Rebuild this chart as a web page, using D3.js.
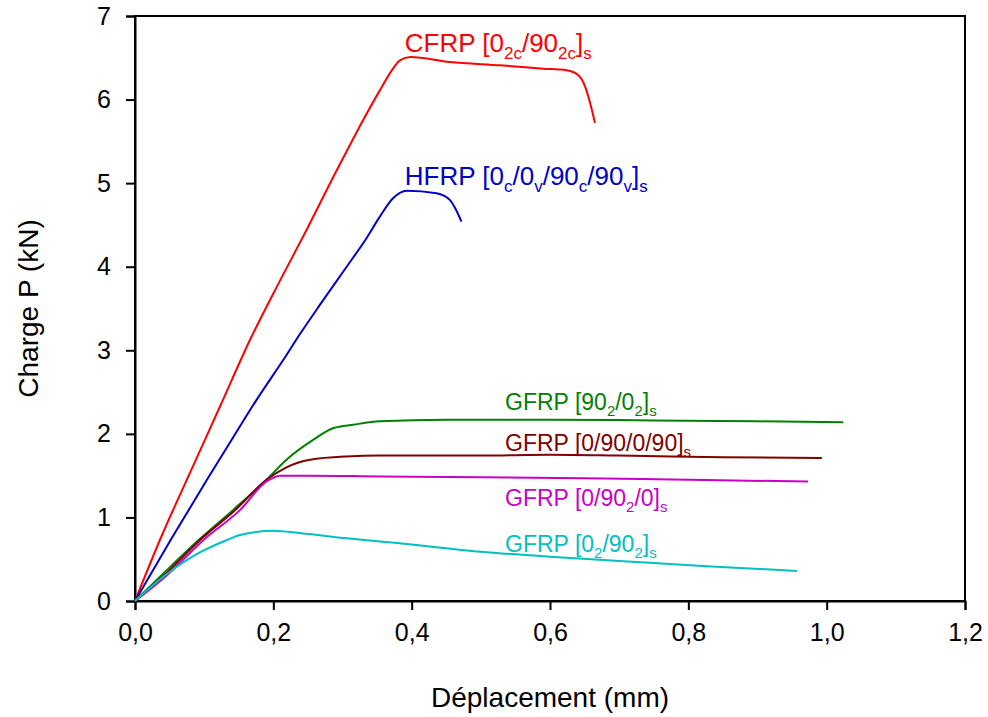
<!DOCTYPE html>
<html><head><meta charset="utf-8">
<script src="https://cdn.jsdelivr.net/npm/d3@7"></script>
<style>body{margin:0;background:#fff}svg{display:block}text{font-family:"Liberation Sans",Arial,sans-serif}</style>
</head><body>
<script>
// ---- data ----
const xTicks = [0, 0.2, 0.4, 0.6, 0.8, 1.0, 1.2];
const yTicks = [0, 1, 2, 3, 4, 5, 6, 7];
const cfrp = [[0,0],[0.036,0.73],[0.087,1.67],[0.123,2.33],[0.166,3.12],[0.21,3.84],[0.248,4.44],[0.287,5.08],[0.316,5.54],[0.325,5.68],[0.354,6.11],[0.373,6.37],[0.383,6.47],[0.398,6.51],[0.455,6.45],[0.528,6.41],[0.590,6.37],[0.624,6.35],[0.641,6.29],[0.651,6.15],[0.658,5.96],[0.665,5.72]];
const hfrp = [[0,0],[0.053,0.75],[0.104,1.45],[0.142,1.96],[0.176,2.41],[0.214,2.88],[0.239,3.20],[0.267,3.54],[0.306,4.0],[0.333,4.32],[0.354,4.60],[0.373,4.82],[0.393,4.91],[0.436,4.88],[0.455,4.80],[0.463,4.70],[0.472,4.54]];
const gfrp90_0 = [[0,0],[0.041,0.33],[0.092,0.73],[0.142,1.09],[0.19,1.45],[0.219,1.69],[0.258,1.93],[0.287,2.07],[0.316,2.11],[0.354,2.15],[0.45,2.17],[0.6,2.17],[0.75,2.16],[0.9,2.15],[1.024,2.14]];
const gfrp0_90_0_90 = [[0,0],[0.045,0.33],[0.094,0.73],[0.145,1.09],[0.19,1.45],[0.219,1.60],[0.253,1.69],[0.306,1.73],[0.354,1.74],[0.5,1.74],[0.6,1.75],[0.7,1.74],[0.85,1.72],[0.993,1.71]];
const gfrp0_90_90_0 = [[0,0],[0.045,0.30],[0.099,0.73],[0.152,1.09],[0.19,1.43],[0.21,1.50],[0.25,1.50],[0.354,1.49],[0.5,1.48],[0.65,1.47],[0.8,1.45],[0.973,1.43]];
const gfrp0_0_90_90 = [[0,0],[0.041,0.29],[0.089,0.56],[0.133,0.73],[0.152,0.79],[0.2,0.84],[0.24,0.81],[0.306,0.75],[0.383,0.69],[0.5,0.59],[0.6,0.53],[0.7,0.48],[0.82,0.42],[0.957,0.36]];

const seriesData = [cfrp, hfrp, gfrp90_0, gfrp0_90_0_90, gfrp0_90_90_0, gfrp0_0_90_90];
const seriesColors = ["#ff0000","#0000c8","#008000","#800000","#c800c8","#00c0c0"];
// label text pieces: [text, isSubscript]
const seriesLabels = [
  [["CFRP [0",0],["2c",1],["/90",0],["2c",1],["]",0],["s",1]],
  [["HFRP [0",0],["c",1],["/0",0],["v",1],["/90",0],["c",1],["/90",0],["v",1],["]",0],["s",1]],
  [["GFRP [90",0],["2",1],["/0",0],["2",1],["]",0],["s",1]],
  [["GFRP [0/90/0/90]",0],["s",1]],
  [["GFRP [0/90",0],["2",1],["/0]",0],["s",1]],
  [["GFRP [0",0],["2",1],["/90",0],["2",1],["]",0],["s",1]]
];
const labelAnchors = [[0.39,6.57],[0.39,4.98],[0.535,2.29],[0.535,1.80],[0.535,1.14],[0.535,0.59]];
const labelSizes = [26,26,23,23,23,23];
const xTitle = "Déplacement (mm)";
const yTitle = "Charge P (kN)";

// ---- chart ----
const W = 988, H = 717;
const m = {left:135, right:23, top:16, bottom:116};
const svg = d3.select("body").append("svg").attr("width",W).attr("height",H);
const x = d3.scaleLinear().domain([0,1.2]).range([m.left, W-m.right]);
const y = d3.scaleLinear().domain([0,7]).range([H-m.bottom, m.top]);

// frame
svg.append("rect").attr("x",x(0)).attr("y",y(7)).attr("width",x(1.2)-x(0)).attr("height",y(0)-y(7))
  .attr("fill","none").attr("stroke","#000").attr("stroke-width",2);

const fmt = d => d3.format(".1f")(d).replace(".",",");
const xAxis = svg.append("g").attr("transform",`translate(0,${y(0)})`)
  .call(d3.axisBottom(x).tickValues(xTicks).tickFormat(fmt).tickSize(9).tickPadding(13));
const yAxis = svg.append("g").attr("transform",`translate(${x(0)},0)`)
  .call(d3.axisLeft(y).tickValues(yTicks).tickFormat(d3.format("d")).tickSize(9).tickPadding(15));
[xAxis,yAxis].forEach(g=>{
  g.select(".domain").attr("stroke-width",2);
  g.selectAll(".tick line").attr("stroke-width",2);
  g.selectAll(".tick text").attr("font-size",25).attr("fill","#000").attr("font-family",'"Liberation Sans",Arial,sans-serif');
});

// curves
const line = d3.line().x(d=>x(d[0])).y(d=>y(d[1])).curve(d3.curveMonotoneX);
seriesData.forEach((s,i)=>{
  svg.append("path").datum(s).attr("d",line).attr("fill","none")
    .attr("stroke",seriesColors[i]).attr("stroke-width",2).attr("stroke-linejoin","round");
});

// labels
seriesLabels.forEach((parts,i)=>{
  const fs = labelSizes[i], ss = Math.round(fs*0.66), off = Math.round(fs*0.28);
  const t = svg.append("text").attr("x",x(labelAnchors[i][0])).attr("y",y(labelAnchors[i][1]))
    .attr("fill",seriesColors[i]).attr("font-size",fs);
  let sub = false;
  parts.forEach(p=>{
    const ts = t.append("tspan").text(p[0]);
    if (p[1]) ts.attr("font-size",ss);
    if (p[1] && !sub) { ts.attr("dy",off); sub = true; }
    else if (!p[1] && sub) { ts.attr("dy",-off); sub = false; }
  });
});

// axis titles
svg.append("text").attr("x",(x(0)+x(1.2))/2).attr("y",707).attr("text-anchor","middle")
  .attr("font-size",28).attr("fill","#000").text(xTitle);
svg.append("text").attr("transform",`translate(38,${(y(0)+y(7))/2}) rotate(-90)`).attr("text-anchor","middle")
  .attr("font-size",28).attr("fill","#000").text(yTitle);
</script>
</body></html>
